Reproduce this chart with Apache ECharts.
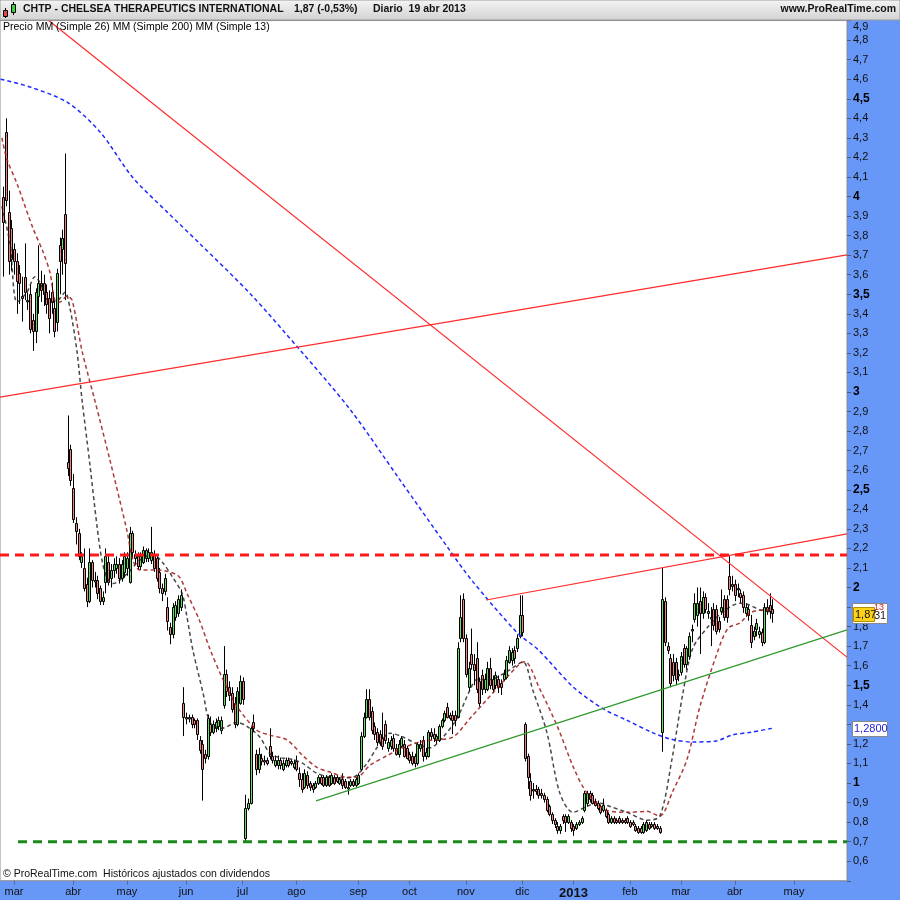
<!DOCTYPE html>
<html><head><meta charset="utf-8">
<script src="https://cdn.jsdelivr.net/npm/echarts@6/dist/echarts.min.js"></script>
<style>html,body{margin:0;padding:0;background:#fff}#c{width:900px;height:900px}</style>
</head><body><div id="c"></div>
<script>
// ---- axis ticks (trading-day index of first session of each month) ----
const monthLabels = ['mar','abr','may','jun','jul','ago','sep','oct','nov','dic','2013','feb','mar','abr','may'];
const monthStartIdx = [0,22,42,64,85,105,128,147,168,189,208,229,248,268,290];
const firstIndex = -4;

// ---- daily candles [open, close, low, high] ----
const feb2012 = [[4.00,3.87,3.59,4.05],[4.33,3.98,3.95,4.40],[3.92,3.67,3.60,4.03],[3.84,3.68,3.62,3.88]];
const mar2012 = [[3.73,3.67,3.60,3.76],[3.67,3.57,3.40,3.71],[3.61,3.56,3.45,3.65],[3.49,3.48,3.36,3.59],[3.59,3.51,3.47,3.76],[3.47,3.47,3.42,3.51],[3.50,3.32,3.30,3.55],[3.37,3.31,3.21,3.40],[3.31,3.51,3.25,3.53],[3.49,3.56,3.40,3.75],[3.56,3.52,3.46,3.62],[3.56,3.50,3.44,3.60],[3.51,3.45,3.40,3.55],[3.48,3.38,3.30,3.52],[3.51,3.46,3.40,3.56],[3.43,3.31,3.28,3.47],[3.36,3.61,3.31,3.63],[3.75,3.67,3.50,3.79],[3.73,3.79,3.60,3.83],[3.91,3.66,3.47,4.22],[2.64,2.61,2.57,2.88],[2.71,2.55,2.52,2.73]];
const apr2012 = [[2.51,2.35,2.33,2.58],[2.33,2.29,2.22,2.36],[2.28,2.16,2.14,2.30],[2.13,2.16,2.10,2.18],[2.10,2.00,1.98,2.20],[2.02,1.93,1.90,2.05],[1.93,2.13,1.92,2.20],[2.13,2.04,2.00,2.14],[2.04,2.04,2.00,2.08],[2.04,1.97,1.94,2.06],[2.00,1.93,1.91,2.01],[1.93,1.95,1.91,1.98],[2.03,2.16,1.97,2.20],[2.13,2.03,2.01,2.16],[2.05,2.09,2.00,2.12],[2.09,2.12,2.05,2.15],[2.10,2.12,2.07,2.16],[2.12,2.05,2.02,2.15],[2.05,2.12,2.03,2.14],[2.08,2.16,2.05,2.18]];
const may2012 = [[2.10,2.15,2.06,2.18],[2.03,2.28,2.02,2.31],[2.28,2.18,2.15,2.29],[2.17,2.15,2.12,2.19],[2.16,2.11,2.09,2.18],[2.11,2.16,2.09,2.18],[2.13,2.19,2.12,2.21],[2.15,2.19,2.13,2.20],[2.15,2.18,2.13,2.20],[2.14,2.18,2.12,2.31],[2.17,2.10,2.08,2.19],[2.15,2.05,2.03,2.16],[2.08,2.00,1.97,2.10],[2.00,1.97,1.93,2.02],[1.98,2.05,1.96,2.07],[1.90,1.83,1.78,1.95],[1.80,1.76,1.71,1.82],[1.76,1.90,1.74,1.92],[1.85,1.91,1.83,1.93],[1.87,1.94,1.85,1.96],[1.90,1.96,1.88,1.99],[1.41,1.34,1.24,1.49]];
const jun2012 = [[1.34,1.33,1.30,1.36],[1.34,1.33,1.31,1.35],[1.34,1.30,1.28,1.35],[1.32,1.30,1.28,1.33],[1.32,1.25,1.22,1.33],[1.22,1.17,1.15,1.24],[1.20,1.07,0.91,1.22],[1.15,1.13,1.10,1.17],[1.14,1.33,1.12,1.35],[1.30,1.26,1.24,1.34],[1.26,1.30,1.25,1.32],[1.28,1.31,1.26,1.33],[1.29,1.32,1.27,1.34],[1.27,1.32,1.25,1.34],[1.40,1.56,1.38,1.70],[1.56,1.47,1.44,1.58],[1.49,1.45,1.42,1.52],[1.46,1.38,1.36,1.49],[1.41,1.30,1.28,1.44],[1.30,1.47,1.29,1.49],[1.41,1.52,1.40,1.55]];
const jul2012 = [[1.52,1.43,1.40,1.54],[0.72,0.87,0.70,0.94],[0.87,0.90,0.86,0.92],[0.90,1.28,0.89,1.29],[1.31,1.28,1.26,1.35],[1.15,1.07,1.04,1.17],[1.07,1.15,1.05,1.18],[1.13,1.11,1.09,1.15],[1.12,1.11,1.09,1.14],[1.12,1.10,1.09,1.13],[1.19,1.14,1.12,1.28],[1.14,1.12,1.10,1.16],[1.09,1.12,1.08,1.14],[1.09,1.12,1.07,1.14],[1.12,1.09,1.07,1.13],[1.07,1.10,1.06,1.12],[1.09,1.12,1.08,1.13],[1.12,1.09,1.08,1.13],[1.10,1.11,1.09,1.12],[1.08,1.10,1.07,1.12]];
const aug2012 = [[1.11,1.07,1.06,1.14],[1.05,1.02,0.98,1.08],[1.02,0.97,0.95,1.05],[0.98,1.05,0.97,1.07],[1.04,0.99,0.97,1.06],[1.00,0.98,0.96,1.01],[0.99,0.97,0.95,1.00],[0.98,1.00,0.97,1.01],[1.00,1.03,0.99,1.04],[1.03,1.00,0.99,1.04],[1.03,0.99,0.98,1.04],[0.99,1.03,0.98,1.04],[1.03,0.99,0.98,1.04],[1.00,1.04,0.99,1.05],[1.03,1.00,0.99,1.04],[1.03,1.01,1.00,1.04],[1.00,1.02,0.99,1.03],[1.02,0.99,0.97,1.05],[1.01,0.98,0.97,1.02],[0.98,0.98,0.94,1.01],[0.99,1.01,0.98,1.02],[1.01,0.99,0.98,1.02],[0.99,1.02,0.98,1.03]];
const sep2012 = [[1.00,1.04,0.99,1.05],[1.07,1.24,1.06,1.26],[1.24,1.34,1.23,1.36],[1.34,1.43,1.33,1.48],[1.43,1.34,1.32,1.48],[1.37,1.27,1.25,1.39],[1.29,1.25,1.22,1.31],[1.26,1.21,1.19,1.28],[1.25,1.21,1.19,1.27],[1.23,1.19,1.17,1.36],[1.30,1.22,1.20,1.32],[1.18,1.21,1.16,1.23],[1.19,1.22,1.17,1.24],[1.23,1.18,1.16,1.25],[1.18,1.15,1.14,1.20],[1.15,1.20,1.13,1.22],[1.19,1.23,1.18,1.24],[1.20,1.14,1.13,1.22],[1.18,1.13,1.12,1.19]];
const oct2012 = [[1.15,1.12,1.10,1.16],[1.14,1.10,1.09,1.16],[1.14,1.10,1.08,1.15],[1.10,1.20,1.09,1.21],[1.18,1.20,1.16,1.22],[1.22,1.14,1.11,1.24],[1.14,1.16,1.12,1.18],[1.14,1.26,1.13,1.27],[1.26,1.24,1.22,1.28],[1.25,1.23,1.21,1.28],[1.22,1.24,1.20,1.25],[1.22,1.29,1.21,1.30],[1.29,1.32,1.28,1.33],[1.32,1.36,1.31,1.37],[1.39,1.34,1.33,1.41],[1.35,1.33,1.32,1.36],[1.35,1.32,1.25,1.37],[1.35,1.32,1.29,1.37],[1.34,1.69,1.33,1.72],[1.74,1.85,1.72,1.96],[1.94,1.74,1.72,1.97]];
const nov2012 = [[1.74,1.56,1.54,1.76],[1.49,1.59,1.47,1.62],[1.66,1.61,1.58,1.79],[1.61,1.58,1.50,1.66],[1.64,1.48,1.46,1.72],[1.52,1.41,1.39,1.54],[1.55,1.48,1.45,1.58],[1.48,1.53,1.46,1.56],[1.48,1.59,1.47,1.62],[1.59,1.50,1.48,1.64],[1.53,1.48,1.46,1.55],[1.50,1.55,1.48,1.57],[1.53,1.49,1.46,1.55],[1.51,1.49,1.45,1.53],[1.53,1.56,1.52,1.58],[1.54,1.63,1.53,1.65],[1.62,1.68,1.61,1.70],[1.63,1.67,1.60,1.69],[1.68,1.64,1.61,1.70],[1.69,1.74,1.67,1.76],[1.75,1.86,1.74,1.96]];
const dec2012 = [[1.86,1.77,1.75,1.96],[1.30,1.13,1.11,1.31],[1.14,1.03,0.97,1.15],[1.01,0.94,0.91,1.05],[0.97,0.97,0.92,1.00],[0.97,0.96,0.94,0.99],[0.97,0.94,0.92,0.98],[0.95,0.94,0.92,0.97],[0.94,0.92,0.90,0.95],[0.92,0.86,0.85,0.93],[0.88,0.84,0.83,0.89],[0.84,0.81,0.79,0.85],[0.81,0.79,0.77,0.82],[0.78,0.76,0.74,0.80],[0.76,0.78,0.74,0.79],[0.83,0.81,0.79,0.84],[0.83,0.80,0.75,0.84],[0.80,0.83,0.79,0.84],[0.80,0.77,0.75,0.81]];
const jan2013 = [[0.78,0.76,0.73,0.79],[0.77,0.79,0.76,0.80],[0.79,0.80,0.78,0.81],[0.80,0.82,0.79,0.83],[0.86,0.95,0.85,0.96],[0.90,0.95,0.88,0.96],[0.95,0.92,0.90,0.96],[0.94,0.90,0.89,0.95],[0.91,0.89,0.88,0.92],[0.90,0.87,0.86,0.91],[0.88,0.85,0.84,0.89],[0.86,0.89,0.85,0.92],[0.86,0.83,0.82,0.87],[0.84,0.80,0.79,0.85],[0.80,0.82,0.79,0.83],[0.82,0.80,0.79,0.83],[0.81,0.80,0.79,0.82],[0.82,0.80,0.79,0.83],[0.81,0.80,0.79,0.82],[0.81,0.80,0.79,0.82],[0.82,0.80,0.79,0.83]];
const feb2013 = [[0.80,0.78,0.77,0.81],[0.80,0.79,0.78,0.81],[0.78,0.76,0.75,0.79],[0.77,0.75,0.74,0.78],[0.77,0.75,0.74,0.78],[0.75,0.79,0.74,0.80],[0.76,0.80,0.75,0.81],[0.79,0.77,0.76,0.80],[0.79,0.78,0.77,0.80],[0.79,0.77,0.76,0.80],[0.78,0.77,0.76,0.79],[0.77,0.75,0.74,0.78],[1.26,1.94,1.16,2.10],[1.93,1.72,1.70,1.95],[1.70,1.68,1.66,1.72],[1.64,1.51,1.49,1.66],[1.62,1.55,1.52,1.66],[1.62,1.53,1.50,1.64],[1.55,1.56,1.52,1.58]];
const mar2013 = [[1.57,1.65,1.55,1.67],[1.69,1.61,1.59,1.71],[1.61,1.69,1.58,1.70],[1.65,1.75,1.63,1.77],[1.79,1.79,1.72,1.81],[1.84,1.92,1.82,1.97],[1.86,1.92,1.80,2.00],[1.93,1.87,1.66,2.00],[1.87,1.95,1.84,1.98],[1.95,1.89,1.87,1.97],[1.87,1.88,1.84,1.92],[1.85,1.85,1.70,1.90],[1.89,1.81,1.78,1.92],[1.89,1.78,1.76,1.91],[1.83,1.79,1.77,1.85],[1.88,1.90,1.86,1.99],[1.94,1.85,1.83,1.96],[1.94,1.85,1.82,1.96],[2.06,1.99,1.96,2.16],[2.02,2.01,1.98,2.06]];
const apr2013 = [[2.02,1.96,1.93,2.04],[2.00,1.99,1.95,2.02],[1.97,1.95,1.92,1.99],[1.96,1.90,1.87,1.98],[1.87,1.90,1.85,1.92],[1.89,1.86,1.83,1.91],[1.81,1.72,1.69,1.86],[1.75,1.78,1.73,1.80],[1.79,1.82,1.75,1.84],[1.76,1.78,1.74,1.80],[1.77,1.72,1.70,1.79],[1.72,1.90,1.71,1.92],[1.90,1.88,1.86,1.94],[1.91,1.88,1.84,1.97],[1.89,1.87,1.82,1.94]];

// ---- moving averages [dayIndex, value] ----
const sma13 = [[-4.5,3.95],[-1.5,3.76],[1.1,3.46],[4.8,3.51],[7.8,3.59],[9.7,3.56],[13.4,3.46],[16.4,3.47],[19,3.51],[20.8,3.43],[23.4,3.21],[25.3,2.96],[28.3,2.62],[30.9,2.31],[32.7,2.14],[34.6,2.05],[36.8,2.02],[42,2.07],[46.8,2.14],[51.7,2.17],[55.4,2.125],[59.1,2.05],[62.5,1.97],[64.3,1.85],[66.5,1.68],[70.3,1.46],[72.9,1.31],[77.3,1.28],[82.9,1.31],[86.6,1.29],[91.4,1.235],[95.2,1.15],[98.9,1.13],[103.7,1.12],[107.4,1.10],[112.6,1.05],[120.1,1.026],[126,1.03],[131.2,1.10],[134.9,1.18],[139.8,1.255],[144.6,1.235],[149.8,1.20],[154.6,1.18],[159.5,1.235],[164.7,1.33],[169.5,1.475],[172.1,1.53],[177,1.53],[183.3,1.57],[189.2,1.62],[192.9,1.475],[198.1,1.26],[202.9,0.95],[207.8,0.85],[213,0.88],[216.7,0.90],[221.6,0.88],[227.9,0.85],[235.3,0.81],[240.1,0.83],[244.6,1.12],[248.7,1.46],[252.4,1.69],[258.7,1.81],[263.6,1.875],[269.9,1.92],[273.6,1.91],[277.3,1.885],[282,1.875]];
const sma26 = [[-4.5,4.30],[-2.6,4.19],[1,4.07],[7,3.84],[11,3.71],[13.4,3.61],[15.2,3.47],[17,3.46],[19.7,3.49],[21.6,3.47],[25.3,3.21],[30,2.96],[35.7,2.65],[42,2.29],[44.2,2.14],[46.8,2.09],[53,2.09],[61,2.06],[64.3,1.97],[69,1.83],[73,1.68],[77.7,1.53],[83,1.39],[90.3,1.27],[95.2,1.245],[101.5,1.22],[107.4,1.14],[112.6,1.08],[117.5,1.056],[123.8,1.03],[127.5,1.03],[132.3,1.09],[138.7,1.14],[144.6,1.18],[151,1.21],[155.8,1.22],[163.2,1.235],[169.5,1.33],[188,1.61],[190,1.62],[195.5,1.48],[202,1.29],[208,1.08],[213,0.95],[220.4,0.86],[228,0.85],[235.3,0.855],[240,0.83],[245,0.96],[250.2,1.12],[255,1.39],[261.3,1.66],[265.4,1.79],[270,1.82],[273.6,1.87],[278.4,1.885],[282,1.885]];
const sma200 = [[-5,4.60],[6,4.56],[20,4.48],[32,4.33],[44,4.10],[57,3.92],[69,3.76],[88,3.50],[106,3.22],[125,2.91],[143,2.56],[162,2.19],[170,2.04],[187,1.77],[195,1.68],[208,1.49],[219,1.38],[228,1.32],[237,1.26],[244,1.225],[252,1.21],[261,1.215],[267,1.245],[274,1.26],[282,1.28]];

// ---- hand-drawn trend lines [dayIndex, value] ----
const redDownLine = [[12.9,4.90],[309.7,1.644]];
const redUpLongLine = [[-5.2,2.974],[309.7,3.701]];
const redUpShortLine = [[175.5,1.936],[309.7,2.274]];
const redLevel = [[-5.2,2.166],[309.7,2.166]];
const greenUpLine = [[112.3,0.908],[309.7,1.783]];
const greenLevel = [[1.5,0.70],[309.7,0.70]];

const months = [feb2012,mar2012,apr2012,may2012,jun2012,jul2012,aug2012,sep2012,oct2012,nov2012,dec2012,jan2013,feb2013,mar2013,apr2013];
const candles = [];
let idx = firstIndex;
months.forEach(m => m.forEach(d => { candles.push([idx, d[0], d[1], d[2], d[3]]); idx++; }));

const UP = '#5fe35f', DOWN = '#f08282';
const chart = echarts.init(document.getElementById('c'), null, {renderer: 'canvas', width: 900, height: 900});
const FONT = 'Liberation Sans, Arial, sans-serif';

function trend(data, color, width, dash) {
  return {type: 'line', data: data, showSymbol: false, silent: true, z: 4,
    lineStyle: {color: color, width: width, type: dash || 'solid'}, animation: false};
}
function ma(data, color, opacity) {
  return {type: 'line', data: data, showSymbol: false, silent: true, z: 3, smooth: 0.3,
    lineStyle: {color: color, width: 1.5, type: [4, 3], opacity: opacity}, animation: false};
}

chart.setOption({
  animation: false,
  backgroundColor: '#6797f7',
  textStyle: {fontFamily: FONT},
  grid: {left: 0, right: 53, top: 20.55, bottom: 19.25, show: true, backgroundColor: '#ffffff', borderColor: '#8a8a8a', borderWidth: 1},
  xAxis: {
    type: 'value', min: -5.2, max: 309.7,
    axisLine: {show: false, onZero: false},
    splitLine: {show: false},
    axisTick: {show: true, customValues: monthStartIdx, length: 4, lineStyle: {color: '#5a6a90'}},
    axisLabel: {
      customValues: monthStartIdx, margin: 6, fontSize: 11, color: '#111', fontFamily: FONT,
      formatter: function (v) {
        const k = monthStartIdx.indexOf(Math.round(v));
        const t = k >= 0 ? monthLabels[k] : '';
        return t === '2013' ? '{y|2013}' : t;
      },
      rich: {y: {fontWeight: 'bold', fontSize: 13, color: '#111', fontFamily: FONT}}
    }
  },
  yAxis: {
    type: 'value', position: 'right', min: 0.5, max: 4.9, interval: 0.1,
    axisLine: {show: false, onZero: false},
    splitLine: {show: false},
    axisTick: {show: true, length: 4, lineStyle: {color: '#4a5a80'}},
    axisLabel: {
      margin: 6, fontSize: 11, color: '#111', fontFamily: FONT, showMinLabel: true, showMaxLabel: true,
      formatter: function (v) {
        const r = Math.round(v * 10) / 10;
        if (r < 0.55 || Math.abs(r - 1.3) < 1e-6 || Math.abs(r - 1.9) < 1e-6) return '';
        const s = String(r).replace('.', ',');
        if (Math.abs(r - 4.9) < 1e-6) return '{t|' + s + '}';
        const major = Math.abs(r * 2 - Math.round(r * 2)) < 1e-6;
        return major ? '{b|' + s + '}' : '{n|' + s + '}';
      },
      rich: {
        b: {fontWeight: 'bold', fontSize: 12, color: '#000', fontFamily: FONT},
        n: {fontSize: 11, color: '#111', fontFamily: FONT},
        t: {fontSize: 11, color: '#111', fontFamily: FONT, padding: [13, 0, 0, 0]}
      }
    }
  },
  series: [
    {
      type: 'custom', data: candles, z: 2, clip: true, silent: true,
      encode: {x: 0, y: [1, 2, 3, 4]},
      renderItem: function (params, api) {
        const x = api.value(0), o = api.value(1), c = api.value(2), l = api.value(3), h = api.value(4);
        const pH = api.coord([x, h]), pL = api.coord([x, l]);
        const pO = api.coord([x, o]), pC = api.coord([x, c]);
        const cx = Math.round(pH[0]) + 0.5;
        const top = Math.round(Math.min(pO[1], pC[1])) + 0.5;
        const bot = Math.round(Math.max(pO[1], pC[1])) + 0.5;
        return {type: 'group', children: [
          {type: 'line', shape: {x1: cx, y1: pH[1], x2: cx, y2: pL[1]}, style: {stroke: '#000', lineWidth: 1}},
          {type: 'rect', shape: {x: cx - 1, y: top, width: 2, height: Math.max(bot - top, 1.5)},
            style: {fill: c >= o ? UP : DOWN, stroke: '#000', lineWidth: 1}}
        ]};
      }
    },
    ma(sma13, '#1a1a1a', 0.8),
    ma(sma26, '#a01818', 0.85),
    ma(sma200, '#1f2bff', 1),
    trend(redDownLine, '#ff2a2a', 1.2),
    trend(redUpLongLine, '#ff2a2a', 1.2),
    trend(redUpShortLine, '#ff2a2a', 1.2),
    trend(redLevel, '#ff1a1a', 3, [9, 6]),
    trend(greenUpLine, '#2f9a2f', 1.3),
    trend(greenLevel, '#198a19', 3, [9, 6])
  ],
  graphic: [
    {type: 'rect', z: 100, shape: {x: 0, y: 0, width: 900, height: 20},
      style: {fill: new echarts.graphic.LinearGradient(0, 0, 0, 1, [{offset: 0, color: '#f4f4f4'}, {offset: 1, color: '#d2d2d2'}]), stroke: '#9a9a9a', lineWidth: 1}},
    // header icon
    {type: 'line', z: 101, shape: {x1: 5.5, y1: 8, x2: 5.5, y2: 18}, style: {stroke: '#000', lineWidth: 1}},
    {type: 'rect', z: 102, shape: {x: 3.5, y: 10.5, width: 4, height: 6}, style: {fill: '#e04848', stroke: '#000', lineWidth: 1}},
    {type: 'line', z: 101, shape: {x1: 13.5, y1: 2, x2: 13.5, y2: 15}, style: {stroke: '#000', lineWidth: 1}},
    {type: 'rect', z: 102, shape: {x: 11.5, y: 4.5, width: 4, height: 8}, style: {fill: '#3ccf3c', stroke: '#000', lineWidth: 1}},
    {type: 'text', z: 101, left: 23, top: 4, style: {text: 'CHTP - CHELSEA THERAPEUTICS INTERNATIONAL', font: 'bold 10.5px ' + FONT, fill: '#111'}},
    {type: 'text', z: 101, left: 294, top: 4, style: {text: '1,87 (-0,53%)', font: 'bold 10.5px ' + FONT, fill: '#111'}},
    {type: 'text', z: 101, left: 373, top: 4, style: {text: 'Diario  19 abr 2013', font: 'bold 10.5px ' + FONT, fill: '#111'}},
    {type: 'text', z: 101, right: 4, top: 4, style: {text: 'www.ProRealTime.com', font: 'bold 10.5px ' + FONT, fill: '#111'}},
    // legend line
    {type: 'text', z: 101, left: 3, top: 22, style: {
      text: '{p|Precio }{m|MM }{r|(Simple 26) }{b|MM (Simple 200) }{k|MM (Simple 13)}',
      rich: {
        p: {fontSize: 10.5, color: '#111', fontFamily: FONT},
        m: {fontSize: 10.5, color: '#d2542a', fontFamily: FONT},
        r: {fontSize: 10.5, color: '#a01818', fontFamily: FONT},
        b: {fontSize: 10.5, color: '#3333ee', fontFamily: FONT},
        k: {fontSize: 10.5, color: '#333333', fontFamily: FONT}
      }}},
    // footer
    {type: 'text', z: 101, left: 3, top: 869, style: {text: '\u00a9 ProRealTime.com  Hist\u00f3ricos ajustados con dividendos', font: '10.5px ' + FONT, fill: '#111'}},
    // right-side value tags
    {type: 'rect', z: 101, shape: {x: 852.5, y: 603.5, width: 35, height: 20}, style: {fill: '#fff', stroke: '#888', lineWidth: 1}},
    {type: 'text', z: 102, left: 874, top: 603, style: {text: '13', font: '9px ' + FONT, fill: '#d02020'}},
    {type: 'text', z: 102, left: 874, top: 610, style: {text: '31', font: '11px ' + FONT, fill: '#222'}},
    {type: 'rect', z: 103, shape: {x: 853.5, y: 607.5, width: 21, height: 14}, style: {fill: '#ffd21a', stroke: '#b09000', lineWidth: 1}},
    {type: 'text', z: 104, left: 855, top: 609, style: {text: '1,87', font: '11px ' + FONT, fill: '#111'}},
    {type: 'rect', z: 101, shape: {x: 852.5, y: 721.5, width: 35, height: 15}, style: {fill: '#fff', stroke: '#888', lineWidth: 1}},
    {type: 'text', z: 102, left: 854, top: 723, style: {text: '1,2800', font: '11px ' + FONT, fill: '#2020e0'}}
  ]
});
</script></body></html>
